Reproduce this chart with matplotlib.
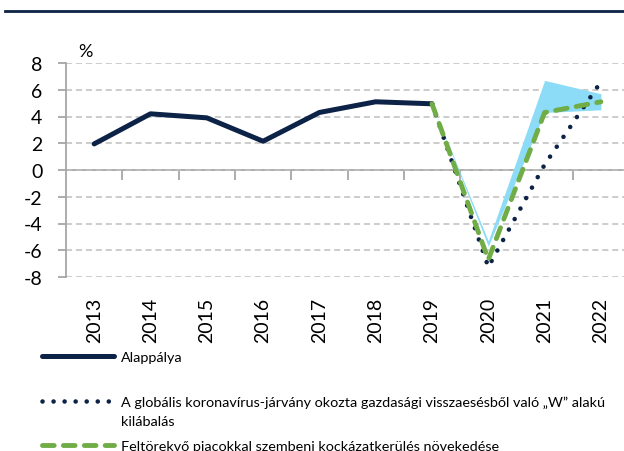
import numpy as np
import matplotlib
matplotlib.use("Agg")
from matplotlib import pyplot as plt
from matplotlib.lines import Line2D

plt.rcParams['font.family'] = ['Lato', 'DejaVu Sans']
plt.rcParams['axes.unicode_minus'] = False

years = ["2013", "2014", "2015", "2016", "2017", "2018", "2019", "2020", "2021", "2022"]
base = [1.95, 4.2, 3.9, 2.15, 4.3, 5.1, 4.95]                # Alappálya 2013-2019
w_shape = [4.95, -7.25, 0.4, 6.6]                             # "W" 2019-2022
risk_off = [4.95, -6.7, 4.3, 5.1]                             # kockázatkerülés 2019-2022
band_low = [4.95, -5.7, 4.3, 4.5]                             # range 2019-2022
band_high = [4.95, -5.3, 6.7, 5.7]

NAVY = "#0C2246"
GREEN = "#70AD47"
BAND = "#8CDCF8"
GRID = "#BFBFBF"
AXIS = "#A6A6A6"

lab_base = "Alappálya"
lab_w1 = "A globális koronavírus-járvány okozta gazdasági visszaesésből való \u201eW\u201d alakú"
lab_w2 = "kilábalás"
lab_risk = "Feltörekvő piacokkal szembeni kockázatkerülés növekedése"

fig = plt.figure(figsize=(6.24, 4.52), dpi=100)
ax = fig.add_axes([66/624, 1-278/452, 558/624, 214/452])

x = np.arange(len(years))
xf = x[6:]

ax.fill_between(xf, band_low, band_high, color=BAND, lw=0, zorder=2)
ax.plot(x[:7], base, color=NAVY, lw=3.6, solid_capstyle='round', solid_joinstyle='round', zorder=3)
ax.plot(xf, w_shape, color=NAVY, lw=3.3, linestyle=(0, (0.01, 2.6)), dash_capstyle='round', zorder=4)
ax.plot(xf, risk_off, color=GREEN, lw=3.5, linestyle=(0, (2.4, 1.9)), dash_capstyle='round', zorder=5)

ax.set_xlim(-0.5, 9.41)
ax.set_ylim(-8, 8)
ax.set_yticks(np.arange(-8, 9, 2))
ax.yaxis.grid(True, color=GRID, linestyle=(0, (4, 2.5)), lw=1.1)
ax.set_axisbelow(True)
for s in ['top', 'right', 'bottom']:
    ax.spines[s].set_visible(False)
ax.spines['left'].set_color(AXIS)
ax.spines['left'].set_linewidth(1.3)
ax.tick_params(axis='y', colors=AXIS, length=6, width=1.3, labelsize=14, labelcolor='black', pad=11)
ax.set_xticks(x)
ax.set_xticklabels(years, rotation=90)
ax.tick_params(axis='x', length=0, labelsize=14, pad=14)

# zero line with category boundary ticks
zx = ax.secondary_xaxis(0.5)
zx.set_xticks(np.arange(0.5, 9.5, 1))
zx.set_xticklabels([])
zx.tick_params(axis='x', colors=AXIS, direction='in', length=7, width=1.3,
               labeltop=False, labelbottom=False)
for s in zx.spines.values():
    s.set_color(AXIS)
    s.set_linewidth(1.3)

fig.text(85/624, 1-52/452, "%", fontsize=13, ha='center', va='center')

# top rule
fig.add_artist(Line2D([5/624, 1], [1-12/452, 1-12/452], color=NAVY, lw=2))

# legend entries
entries = [
    (Line2D([], [], color=NAVY, lw=3.6, solid_capstyle='round'), lab_base, 358),
    (Line2D([], [], color=NAVY, lw=3.3, linestyle=(0, (0.01, 2.4)), dash_capstyle='round'), lab_w1, 403),
    (Line2D([], [], color=GREEN, lw=3.5, linestyle=(0, (2.4, 1.9)), dash_capstyle='round'), lab_risk, 447),
]
for h, lab, yy in entries:
    fig.legend([h], [lab], loc='center left', bbox_to_anchor=(42/624, 1-yy/452),
               frameon=False, fontsize=10.4, handlelength=5.0, handletextpad=0.45,
               borderpad=0, borderaxespad=0)
fig.text(121/624, 1-422/452, lab_w2, fontsize=10.4, va='center', ha='left')

fig.savefig("out.png", dpi=100)
